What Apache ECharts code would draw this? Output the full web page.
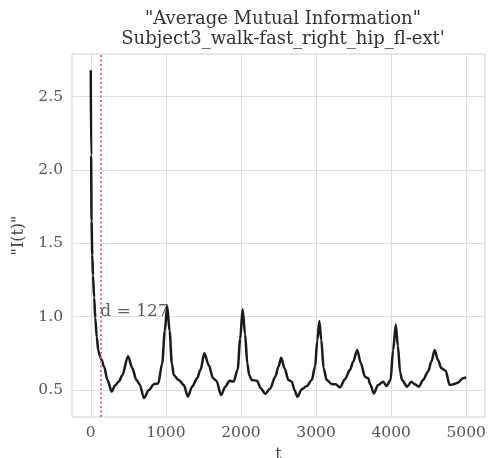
<!DOCTYPE html>
<html>
<head>
<meta charset="utf-8">
<script src="https://cdn.jsdelivr.net/npm/echarts@6/dist/echarts.min.js"></script>
<style>html,body{margin:0;padding:0;background:#fff}#c{width:489px;height:458px}</style>
</head>
<body>
<div id="c"></div>
<script>
const titleLines = ['"Average Mutual Information"', "Subject3_walk-fast_right_hip_fl-ext'"];
const tValues = [0,5,10,20,30,45,60,80,100,120,140,177,221,279,323,376,420,496,553,606,650,708,774,841,898,951,985,1018,1050,1080,1106,1172,1239,1292,1350,1416,1460,1513,1571,1629,1673,1735,1792,1849,1903,1956,1990,2022,2055,2085,2110,2146,2213,2266,2323,2390,2456,2500,2536,2580,2633,2677,2712,2752,2810,2877,2943,2987,3017,3044,3070,3100,3142,3208,3262,3319,3385,3451,3495,3548,3597,3651,3695,3720,3770,3827,3894,3938,3992,4026,4062,4090,4120,4146,4212,4270,4314,4371,4425,4491,4536,4580,4624,4669,4726,4779,4832,4889,4956,5000];
const amiValues = [2.68,2.10,1.65,1.42,1.28,1.13,0.99,0.86,0.77,0.735,0.71,0.66,0.57,0.49,0.53,0.56,0.60,0.73,0.65,0.57,0.54,0.445,0.50,0.54,0.545,0.68,0.90,1.07,0.90,0.68,0.60,0.568,0.534,0.455,0.523,0.58,0.636,0.75,0.67,0.58,0.563,0.466,0.523,0.563,0.557,0.64,0.85,1.05,0.88,0.68,0.60,0.568,0.563,0.511,0.473,0.511,0.59,0.66,0.72,0.648,0.568,0.557,0.50,0.454,0.505,0.527,0.568,0.66,0.84,0.97,0.84,0.65,0.568,0.541,0.539,0.518,0.573,0.636,0.693,0.773,0.682,0.591,0.58,0.54,0.477,0.534,0.557,0.527,0.568,0.77,0.945,0.80,0.62,0.568,0.523,0.557,0.539,0.523,0.568,0.625,0.693,0.773,0.704,0.648,0.632,0.534,0.539,0.55,0.58,0.586];
const xTicks = [0,1000,2000,3000,4000,5000];
const yTicks = [0.5,1.0,1.5,2.0,2.5];
const delayD = 127;
const annotY = 1.0;

const font = '"DejaVu Serif", serif';
const chart = echarts.init(document.getElementById('c'), null, {renderer:'canvas'});
chart.setOption({
  animation: false,
  backgroundColor: '#fff',
  title: {
    text: titleLines.join('\n'),
    left: 278, top: 4, textAlign: 'center',
    textStyle: {fontFamily: font, fontSize: 18, fontWeight: 'normal', color: '#333', lineHeight: 20}
  },
  grid: {left: 72, right: 4, top: 54, bottom: 41, show: true, borderColor: '#cccccc', borderWidth: 1, backgroundColor: 'transparent', outerBoundsMode: 'none', containLabel: false},
  xAxis: {
    type: 'value', min: -250, max: 5250,
    name: 't', nameLocation: 'middle', nameGap: 30,
    nameTextStyle: {fontFamily: font, fontSize: 16, color: '#444'},
    axisLine: {show: false}, axisTick: {show: false, customValues: xTicks},
    axisLabel: {customValues: xTicks, fontFamily: font, fontSize: 15.5, color: '#555', margin: 8, formatter: v => String(v)},
    splitLine: {show: true, lineStyle: {color: '#dddddd', width: 1}}
  },
  yAxis: {
    type: 'value', min: 0.316, max: 2.79,
    name: '"I(t)"', nameLocation: 'middle', nameGap: 45, nameRotate: 90,
    nameTextStyle: {fontFamily: font, fontSize: 16, color: '#444'},
    axisLine: {show: false}, axisTick: {show: false, customValues: yTicks},
    axisLabel: {customValues: yTicks, fontFamily: font, fontSize: 15.5, color: '#555', margin: 9, formatter: v => v.toFixed(1)},
    splitLine: {show: true, lineStyle: {color: '#dddddd', width: 1}}
  },
  series: [
    {
      type: 'line', data: tValues.map((t, i) => [t, amiValues[i]]),
      showSymbol: false, smooth: 0.3, smoothMonotone: 'x',
      lineStyle: {color: '#1a1a1a', width: 2.5},
      markLine: {
        silent: true, symbol: 'none', label: {show: false},
        lineStyle: {color: '#e0707c', type: [2, 2.5], width: 2},
        data: [{xAxis: delayD}]
      }
    },
    {
      type: 'scatter', data: [[delayD, annotY]], symbolSize: 0,
      label: {show: true, position: [0, 0], align: 'left', verticalAlign: 'bottom', offset: [0, 3],
        formatter: 'd = ' + delayD, fontFamily: font, fontSize: 17, color: '#333'}
    }
  ]
});
</script>
</body>
</html>
